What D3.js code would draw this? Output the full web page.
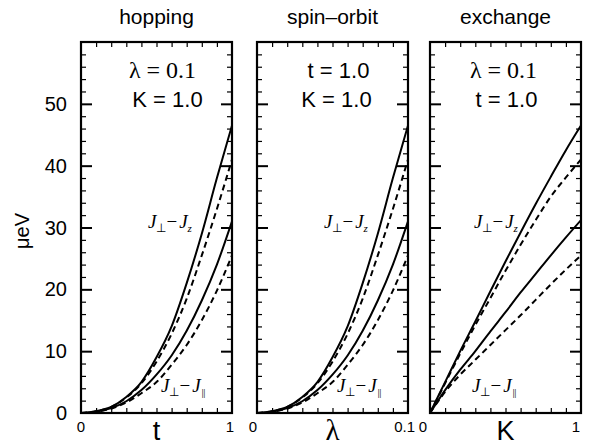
<!DOCTYPE html>
<html>
<head>
<meta charset="utf-8">
<script src="https://cdn.jsdelivr.net/npm/d3@7"></script>
<style>
  body { margin: 0; background: #fff; }
  svg { display: block; }
  .sans { font-family: "Liberation Sans", Arial, Helvetica, sans-serif; }
  .serif { font-family: "Liberation Serif", "Times New Roman", serif; }
</style>
</head>
<body>
<svg width="592" height="446"></svg>
<script>
var svg = d3.select("svg");

// x grids of each panel
var tValues = [0, 0.1, 0.2, 0.3, 0.4, 0.5, 0.6, 0.7, 0.8, 0.9, 1.0];
var lambdaValues = [0, 0.01, 0.02, 0.03, 0.04, 0.05, 0.06, 0.07, 0.08, 0.09, 0.1];
var kValues = [0, 0.1, 0.2, 0.3, 0.4, 0.5, 0.6, 0.7, 0.8, 0.9, 1.0];

// hopping (lambda = 0.1, K = 1.0), microeV
var hopZSolid   = [0, 0.3, 1.0, 2.6, 5.0, 9.0, 14.0, 21.0, 29.0, 38.0, 46.5];
var hopZDashed  = [0, 0.3, 1.0, 2.5, 4.8, 8.3, 12.8, 18.5, 25.5, 33.0, 41.0];
var hopParSolid = [0, 0.2, 0.8, 1.9, 3.7, 6.2, 9.3, 13.3, 18.2, 24.0, 31.0];
var hopParDashed= [0, 0.2, 0.7, 1.7, 3.2, 5.0, 7.8, 11.0, 15.0, 19.8, 25.5];

// spin-orbit (t = 1.0, K = 1.0)
var soZSolid    = [0, 0.3, 1.0, 2.6, 5.0, 9.0, 14.0, 21.0, 29.0, 38.0, 46.5];
var soZDashed   = [0, 0.3, 1.0, 2.5, 4.8, 8.3, 12.8, 18.5, 25.5, 33.0, 41.0];
var soParSolid  = [0, 0.2, 0.8, 1.9, 3.7, 6.2, 9.3, 13.3, 18.2, 24.0, 31.0];
var soParDashed = [0, 0.2, 0.7, 1.7, 3.2, 5.0, 7.8, 11.0, 15.0, 19.8, 25.5];

// exchange (lambda = 0.1, t = 1.0)
var exZSolid    = [0, 5.0, 10.0, 14.8, 19.7, 24.5, 29.2, 33.8, 38.2, 42.5, 46.5];
var exZDashed   = [0, 4.8, 9.6, 14.2, 18.6, 23.0, 27.2, 31.2, 35.0, 38.1, 41.0];
var exParSolid  = [0, 3.7, 7.0, 10.0, 13.2, 16.3, 19.5, 22.5, 25.5, 28.4, 31.2];
var exParDashed = [0, 3.4, 6.2, 8.6, 11.0, 13.4, 15.8, 18.3, 20.8, 23.2, 25.5];

var yTicks = [0, 10, 20, 30, 40, 50];

var TOP = 42, BOTTOM = 413, PANELW = 151;
var SANS = "sans", SERIF = "serif";

var y = d3.scaleLinear().domain([0, 60]).range([BOTTOM, TOP]);

var panels = [
    { left: 81, title: "hopping", xs: tValues, dom: [0, 1], tickLabels: ["0", "1"],
      tick0Dx: 0, tick1Dx: -2,
      xLabel: "t", xLabelFont: SANS, xLabelSize: 27,
      series: [hopZSolid, hopZDashed, hopParSolid, hopParDashed],
      text1: "λ = 0.1", text1Font: SERIF, text1Size: 24, text1Dx: 6,
      text2: "K = 1.0", text2Font: SANS, text2Size: 22, text2Dx: 11,
      lab1: 67, lab2: 80 },
    { left: 257, title: "spin\u2013orbit", xs: lambdaValues, dom: [0, 0.1], tickLabels: ["0", "0.1"],
      tick0Dx: -4, tick1Dx: 7,
      xLabel: "λ", xLabelFont: SERIF, xLabelSize: 29,
      series: [soZSolid, soZDashed, soParSolid, soParDashed],
      text1: "t = 1.0", text1Font: SANS, text1Size: 22, text1Dx: 6,
      text2: "K = 1.0", text2Font: SANS, text2Size: 22, text2Dx: 4,
      lab1: 67, lab2: 80 },
    { left: 430, title: "exchange", xs: kValues, dom: [0, 1], tickLabels: ["0", "1"],
      tick0Dx: -7, tick1Dx: -5,
      xLabel: "K", xLabelFont: SANS, xLabelSize: 27,
      series: [exZSolid, exZDashed, exParSolid, exParDashed],
      text1: "λ = 0.1", text1Font: SERIF, text1Size: 24, text1Dx: -2,
      text2: "t = 1.0", text2Font: SANS, text2Size: 22, text2Dx: 1,
      lab1: 44, lab2: 42 }
];

panels.forEach(function (p, idx) {
    var x = d3.scaleLinear().domain(p.dom).range([p.left, p.left + PANELW]);
    var g = svg.append("g");
    var cx = p.left + PANELW / 2;

    // title
    g.append("text")
        .attr("class", "sans")
        .attr("x", cx).attr("y", 24)
        .attr("text-anchor", "middle")
        .attr("font-size", 21)
        .text(p.title);

    // ticks: bottom / top minor every tenth of the range
    var xt = d3.range(1, 10).map(function (i) { return p.dom[0] + (p.dom[1] - p.dom[0]) * i / 10; });
    g.append("g").attr("transform", "translate(0," + BOTTOM + ")")
        .call(d3.axisBottom(x).tickValues(xt).tickSize(-5).tickFormat(""))
        .call(function (a) { a.select(".domain").remove(); a.selectAll("line").attr("stroke-width", 1.2); });
    g.append("g").attr("transform", "translate(0," + TOP + ")")
        .call(d3.axisTop(x).tickValues(xt).tickSize(-5).tickFormat(""))
        .call(function (a) { a.select(".domain").remove(); a.selectAll("line").attr("stroke-width", 1.2); });

    var minor = d3.range(2, 60, 2).filter(function (v) { return v % 10 !== 0; });
    var major = [10, 20, 30, 40, 50];
    [[p.left, 1], [p.left + PANELW, -1]].forEach(function (s) {
        var axisFn = s[1] === 1 ? d3.axisLeft : d3.axisRight;
        g.append("g").attr("transform", "translate(" + s[0] + ",0)")
            .call(axisFn(y).tickValues(minor).tickSize(-5).tickFormat(""))
            .call(function (a) { a.select(".domain").remove(); a.selectAll("line").attr("stroke-width", 1.2); });
        g.append("g").attr("transform", "translate(" + s[0] + ",0)")
            .call(axisFn(y).tickValues(major).tickSize(-11).tickFormat(""))
            .call(function (a) { a.select(".domain").remove(); a.selectAll("line").attr("stroke-width", 2); });
    });

    // frame
    g.append("rect")
        .attr("x", p.left).attr("y", TOP)
        .attr("width", PANELW).attr("height", BOTTOM - TOP)
        .attr("fill", "none").attr("stroke", "#000").attr("stroke-width", 2.2);

    // y labels on the first panel only
    if (idx === 0) {
        g.selectAll(".ylab").data(yTicks).enter().append("text")
            .attr("class", "sans")
            .attr("x", 67).attr("y", function (d) { return y(d) + 7; })
            .attr("text-anchor", "end")
            .attr("font-size", 20)
            .text(function (d) { return d; });
    }

    // x tick labels
    g.append("text").attr("class", "sans")
        .attr("x", x(p.dom[0]) + p.tick0Dx).attr("y", 432)
        .attr("text-anchor", "middle").attr("font-size", 15)
        .text(p.tickLabels[0]);
    g.append("text").attr("class", "sans")
        .attr("x", x(p.dom[1]) + p.tick1Dx).attr("y", 432)
        .attr("text-anchor", p.tickLabels[1].length > 1 ? "end" : "middle")
        .attr("font-size", 15)
        .text(p.tickLabels[1]);

    // x axis label
    g.append("text").attr("class", p.xLabelFont)
        .attr("x", cx).attr("y", 440)
        .attr("text-anchor", "middle")
        .attr("font-size", p.xLabelSize)
        .text(p.xLabel);

    // parameter annotations
    g.append("text").attr("class", p.text1Font)
        .attr("x", cx + p.text1Dx).attr("y", 78)
        .attr("text-anchor", "middle").attr("font-size", p.text1Size)
        .text(p.text1);
    g.append("text").attr("class", p.text2Font)
        .attr("x", cx + p.text2Dx).attr("y", 107)
        .attr("text-anchor", "middle").attr("font-size", p.text2Size)
        .text(p.text2);

    // curves
    var line = d3.line()
        .x(function (d, i) { return x(p.xs[i]); })
        .y(function (d) { return y(d); })
        .curve(d3.curveMonotoneX);

    var clipId = "clip" + idx;
    g.append("clipPath").attr("id", clipId).append("rect")
        .attr("x", p.left).attr("y", TOP).attr("width", PANELW).attr("height", BOTTOM - TOP);

    g.append("g").attr("clip-path", "url(#" + clipId + ")")
        .selectAll("path").data(p.series).enter().append("path")
        .attr("d", function (d) { return line(d); })
        .attr("fill", "none")
        .attr("stroke", "#000")
        .attr("stroke-width", 2)
        .attr("stroke-dasharray", function (d, i) { return i % 2 === 1 ? "6,4" : null; });

    // curve labels
    jLabel(g, p.left + p.lab1, 228, "\u22a5", "z", true);
    jLabel(g, p.left + p.lab2, 392, "\u22a5", "||", false);
});

function jLabel(g, xpos, ypos, sub1, sub2, italicSub) {
    var t = g.append("text").attr("class", "serif")
        .attr("x", xpos).attr("y", ypos)
        .attr("font-size", 19);
    t.append("tspan").attr("font-style", "italic").text("J");
    t.append("tspan").attr("font-size", 12).attr("dy", 4).text(sub1);
    t.append("tspan").attr("dy", -4).text("\u2212");
    t.append("tspan").attr("font-style", "italic").attr("dx", 2).text("J");
    t.append("tspan").attr("font-size", 11).attr("dy", 4)
        .attr("dx", italicSub ? 0 : 1)
        .attr("letter-spacing", italicSub ? 0 : -0.5)
        .attr("font-style", italicSub ? "italic" : "normal")
        .text(sub2);
}

// y axis title
svg.append("text").attr("class", "sans")
    .attr("transform", "translate(29,231) rotate(-90)")
    .attr("text-anchor", "middle")
    .attr("font-size", 20)
    .text("\u03bceV");
</script>
</body>
</html>
